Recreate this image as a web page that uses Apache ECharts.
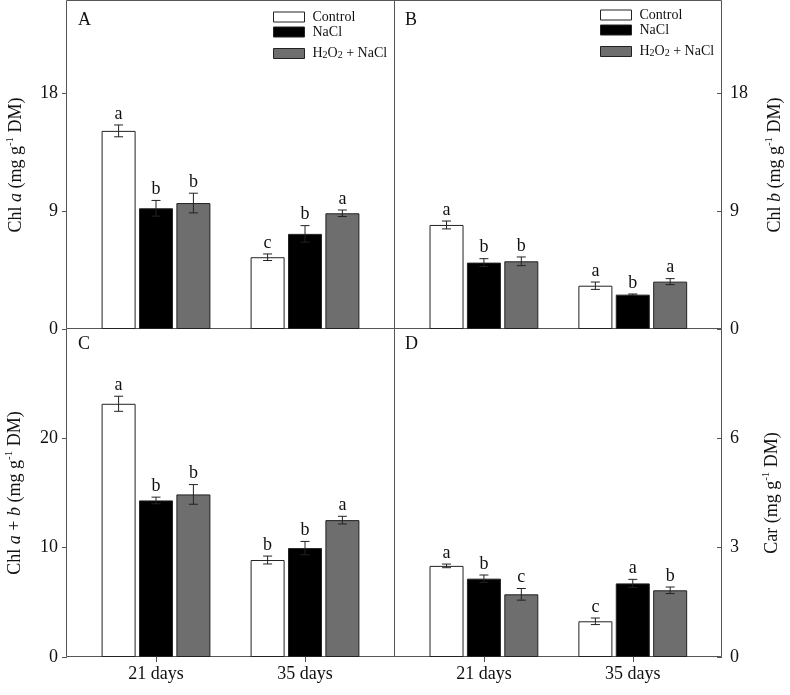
<!DOCTYPE html>
<html>
<head>
<meta charset="utf-8">
<script src="https://cdn.jsdelivr.net/npm/echarts@6/dist/echarts.min.js"></script>
<style>
html,body{margin:0;padding:0;background:#fff;}
#chart{width:790px;height:695px;}
</style>
</head>
<body>
<div id="chart"></div>
<script>
// ---------- DATA ----------
const categories = ['21 days', '35 days'];
const treatments = ['Control', 'NaCl', 'H2O2 + NaCl'];

// Panel A: Chl a
const chlA_mean = [[15.1, 5.47], [9.2, 7.25], [9.6, 8.82]];
const chlA_err = [[0.45, 0.25], [0.6, 0.63], [0.75, 0.25]];
const chlA_letters = [['a', 'c'], ['b', 'b'], ['b', 'a']];
// Panel B: Chl b
const chlB_mean = [[7.93, 3.3], [5.06, 2.62], [5.16, 3.61]];
const chlB_err = [[0.3, 0.28], [0.3, 0.05], [0.33, 0.23]];
const chlB_letters = [['a', 'a'], ['b', 'b'], ['b', 'a']];
// Panel C: Chl a + b
const chlAB_mean = [[23.16, 8.87], [14.32, 9.96], [14.87, 12.52]];
const chlAB_err = [[0.69, 0.36], [0.3, 0.61], [0.9, 0.35]];
const chlAB_letters = [['a', 'b'], ['b', 'b'], ['b', 'a']];
// Panel D: Car
const car_mean = [[2.5, 0.98], [2.15, 2.02], [1.72, 1.83]];
const car_err = [[0.05, 0.09], [0.1, 0.11], [0.16, 0.09]];
const car_letters = [['a', 'c'], ['b', 'a'], ['c', 'b']];

// Axis ticks
const ticksA = [0, 9, 18];
const ticksB = [0, 9, 18];
const ticksC = [0, 10, 20];
const ticksD = [0, 3, 6];
const maxA = 25, maxB = 25, maxC = 30, maxD = 9;
const panelLetters = ['A', 'B', 'C', 'D'];

// ---------- STYLE / LAYOUT ----------
const FONT = "'Liberation Serif', 'Times New Roman', serif";
const colors = ['#ffffff', '#000000', '#6e6e6e'];
const BAR_W = 34, BAR_GAP = 0.1;
const FRAME = '#555';
const AXIS_NAME_RICH = {
  n: {fontSize: 18, fontFamily: FONT, color: '#111', lineHeight: 22},
  i: {fontSize: 18, fontFamily: FONT, color: '#111', fontStyle: 'italic', lineHeight: 22},
  s: {fontSize: 11, fontFamily: FONT, color: '#111', verticalAlign: 'top', lineHeight: 11}
};

const panels = [
  {mean: chlA_mean, err: chlA_err, letters: chlA_letters, ticks: ticksA, max: maxA,
   grid: {left: 81.5, top: 1, width: 298, height: 328}, pos: 'left', offset: 14.5, inside: false,
   name: '{n|Chl }{i|a}{n| (mg g}{s|-1}{n| DM)}', nameGap: 40, showX: false},
  {mean: chlB_mean, err: chlB_err, letters: chlB_letters, ticks: ticksB, max: maxB,
   grid: {left: 409.5, top: 1, width: 297.7, height: 328}, pos: 'right', offset: 14.8, inside: true,
   name: '{n|Chl }{i|b}{n| (mg g}{s|-1}{n| DM)}', nameGap: 42, showX: false},
  {mean: chlAB_mean, err: chlAB_err, letters: chlAB_letters, ticks: ticksC, max: maxC,
   grid: {left: 81.5, top: 329, width: 298, height: 328}, pos: 'left', offset: 14.5, inside: false,
   name: '{n|Chl }{i|a}{n| + }{i|b}{n| (mg g}{s|-1}{n| DM)}', nameGap: 41, showX: true},
  {mean: car_mean, err: car_err, letters: car_letters, ticks: ticksD, max: maxD,
   grid: {left: 409.5, top: 329, width: 297.7, height: 328}, pos: 'right', offset: 14.8, inside: true,
   name: '{n|Car (mg g}{s|-1}{n| DM)}', nameGap: 39, showX: true}
];

const grids = [], xAxes = [], yAxes = [], series = [];
panels.forEach((p, pi) => {
  grids.push(Object.assign({containLabel: false}, p.grid));
  xAxes.push({
    type: 'category', gridIndex: pi, data: categories,
    axisLine: {show: false},
    axisTick: {show: p.showX, alignWithLabel: true, length: 5, inside: false, lineStyle: {color: FRAME}},
    axisLabel: {show: p.showX, fontFamily: FONT, fontSize: 18, color: '#111', margin: 8},
    splitLine: {show: false}
  });
  yAxes.push({
    type: 'value', gridIndex: pi, min: 0, max: p.max, position: p.pos, offset: p.offset,
    axisLine: {show: false},
    axisTick: {show: true, inside: p.inside, length: 5, customValues: p.ticks, lineStyle: {color: FRAME}},
    axisLabel: {fontFamily: FONT, fontSize: 18, color: '#111', margin: p.pos === 'left' ? 9 : 8, customValues: p.ticks},
    splitLine: {show: false},
    name: p.name, nameLocation: 'middle', nameGap: p.nameGap,
    nameTextStyle: {fontFamily: FONT, fontSize: 18, color: '#111', rich: AXIS_NAME_RICH}
  });
  treatments.forEach((t, ti) => {
    series.push({
      type: 'bar', name: t, xAxisIndex: pi, yAxisIndex: pi,
      data: p.mean[ti], barWidth: BAR_W, barGap: (BAR_GAP * 100) + '%',
      itemStyle: {color: colors[ti], borderColor: '#222', borderWidth: 1},
      emphasis: {disabled: true}, silent: true
    });
  });
  treatments.forEach((t, ti) => {
    const letters = p.letters[ti];
    series.push({
      type: 'custom', xAxisIndex: pi, yAxisIndex: pi, silent: true, z: 5,
      data: categories.map((c, ci) => [ci, p.mean[ti][ci], p.err[ti][ci]]),
      renderItem: function (params, api) {
        const ci = api.value(0), m = api.value(1), e = api.value(2);
        const off = (ti - 1) * BAR_W * (1 + BAR_GAP);
        const cx = api.coord([ci, m])[0] + off;
        const yTop = api.coord([ci, m + e])[1];
        const yBot = api.coord([ci, m - e])[1];
        const cap = 4.5;
        const ls = {stroke: '#222', lineWidth: 1};
        return {
          type: 'group',
          children: [
            {type: 'line', shape: {x1: cx, y1: yTop, x2: cx, y2: yBot}, style: ls},
            {type: 'line', shape: {x1: cx - cap, y1: yTop, x2: cx + cap, y2: yTop}, style: ls},
            {type: 'line', shape: {x1: cx - cap, y1: yBot, x2: cx + cap, y2: yBot}, style: ls},
            {type: 'text', style: {text: letters[params.dataIndex], x: cx, y: yTop - 2,
              align: 'center', verticalAlign: 'bottom', fontSize: 18, fontFamily: FONT, fill: '#111'}}
          ]
        };
      }
    });
  });
});

function legendFmt(name) {
  if (name === 'H2O2 + NaCl') return '{n|H}{b|2}{n|O}{b|2}{n| + NaCl}';
  return '{n|' + name + '}';
}
const legendText = {
  fontFamily: FONT, fontSize: 14, color: '#111', padding: [0, 0, 0, 3],
  rich: {
    n: {fontFamily: FONT, fontSize: 14, color: '#111', lineHeight: 14},
    b: {fontFamily: FONT, fontSize: 10, color: '#111', verticalAlign: 'bottom', lineHeight: 10, padding: [9, 0, 0, 0]}
  }
};
function makeLegend(left, top, names) {
  return {left: left, top: top, padding: 0, orient: 'vertical', data: names, icon: 'rect',
    itemWidth: 31, itemHeight: 10, itemGap: 1, selectedMode: false, formatter: legendFmt,
    itemStyle: {borderWidth: 1, borderColor: '#222'}, textStyle: legendText};
}
const legends = [
  makeLegend(273, 10, treatments.slice(0, 2)),
  makeLegend(273, 41.5, treatments.slice(2)),
  makeLegend(600, 8, treatments.slice(0, 2)),
  makeLegend(600, 39.5, treatments.slice(2))
];

const frameStyle = {stroke: FRAME, lineWidth: 1, fill: null};
const graphics = [
  {type: 'rect', shape: {x: 66.5, y: 0.5, width: 655, height: 656}, style: frameStyle, silent: true},
  {type: 'line', shape: {x1: 394.5, y1: 0.5, x2: 394.5, y2: 656.5}, style: frameStyle, silent: true},
  {type: 'line', shape: {x1: 66.5, y1: 328.5, x2: 721.5, y2: 328.5}, style: frameStyle, silent: true},
  {type: 'text', left: 78, top: 11, style: {text: panelLetters[0], fontSize: 18, fontFamily: FONT, fill: '#111'}},
  {type: 'text', left: 405, top: 11, style: {text: panelLetters[1], fontSize: 18, fontFamily: FONT, fill: '#111'}},
  {type: 'text', left: 78, top: 335, style: {text: panelLetters[2], fontSize: 18, fontFamily: FONT, fill: '#111'}},
  {type: 'text', left: 405, top: 335, style: {text: panelLetters[3], fontSize: 18, fontFamily: FONT, fill: '#111'}}
];

const chart = echarts.init(document.getElementById('chart'), null, {renderer: 'canvas'});
chart.setOption({
  animation: false,
  backgroundColor: '#fff',
  grid: grids, xAxis: xAxes, yAxis: yAxes, series: series,
  legend: legends, graphic: graphics
});
</script>
</body>
</html>
